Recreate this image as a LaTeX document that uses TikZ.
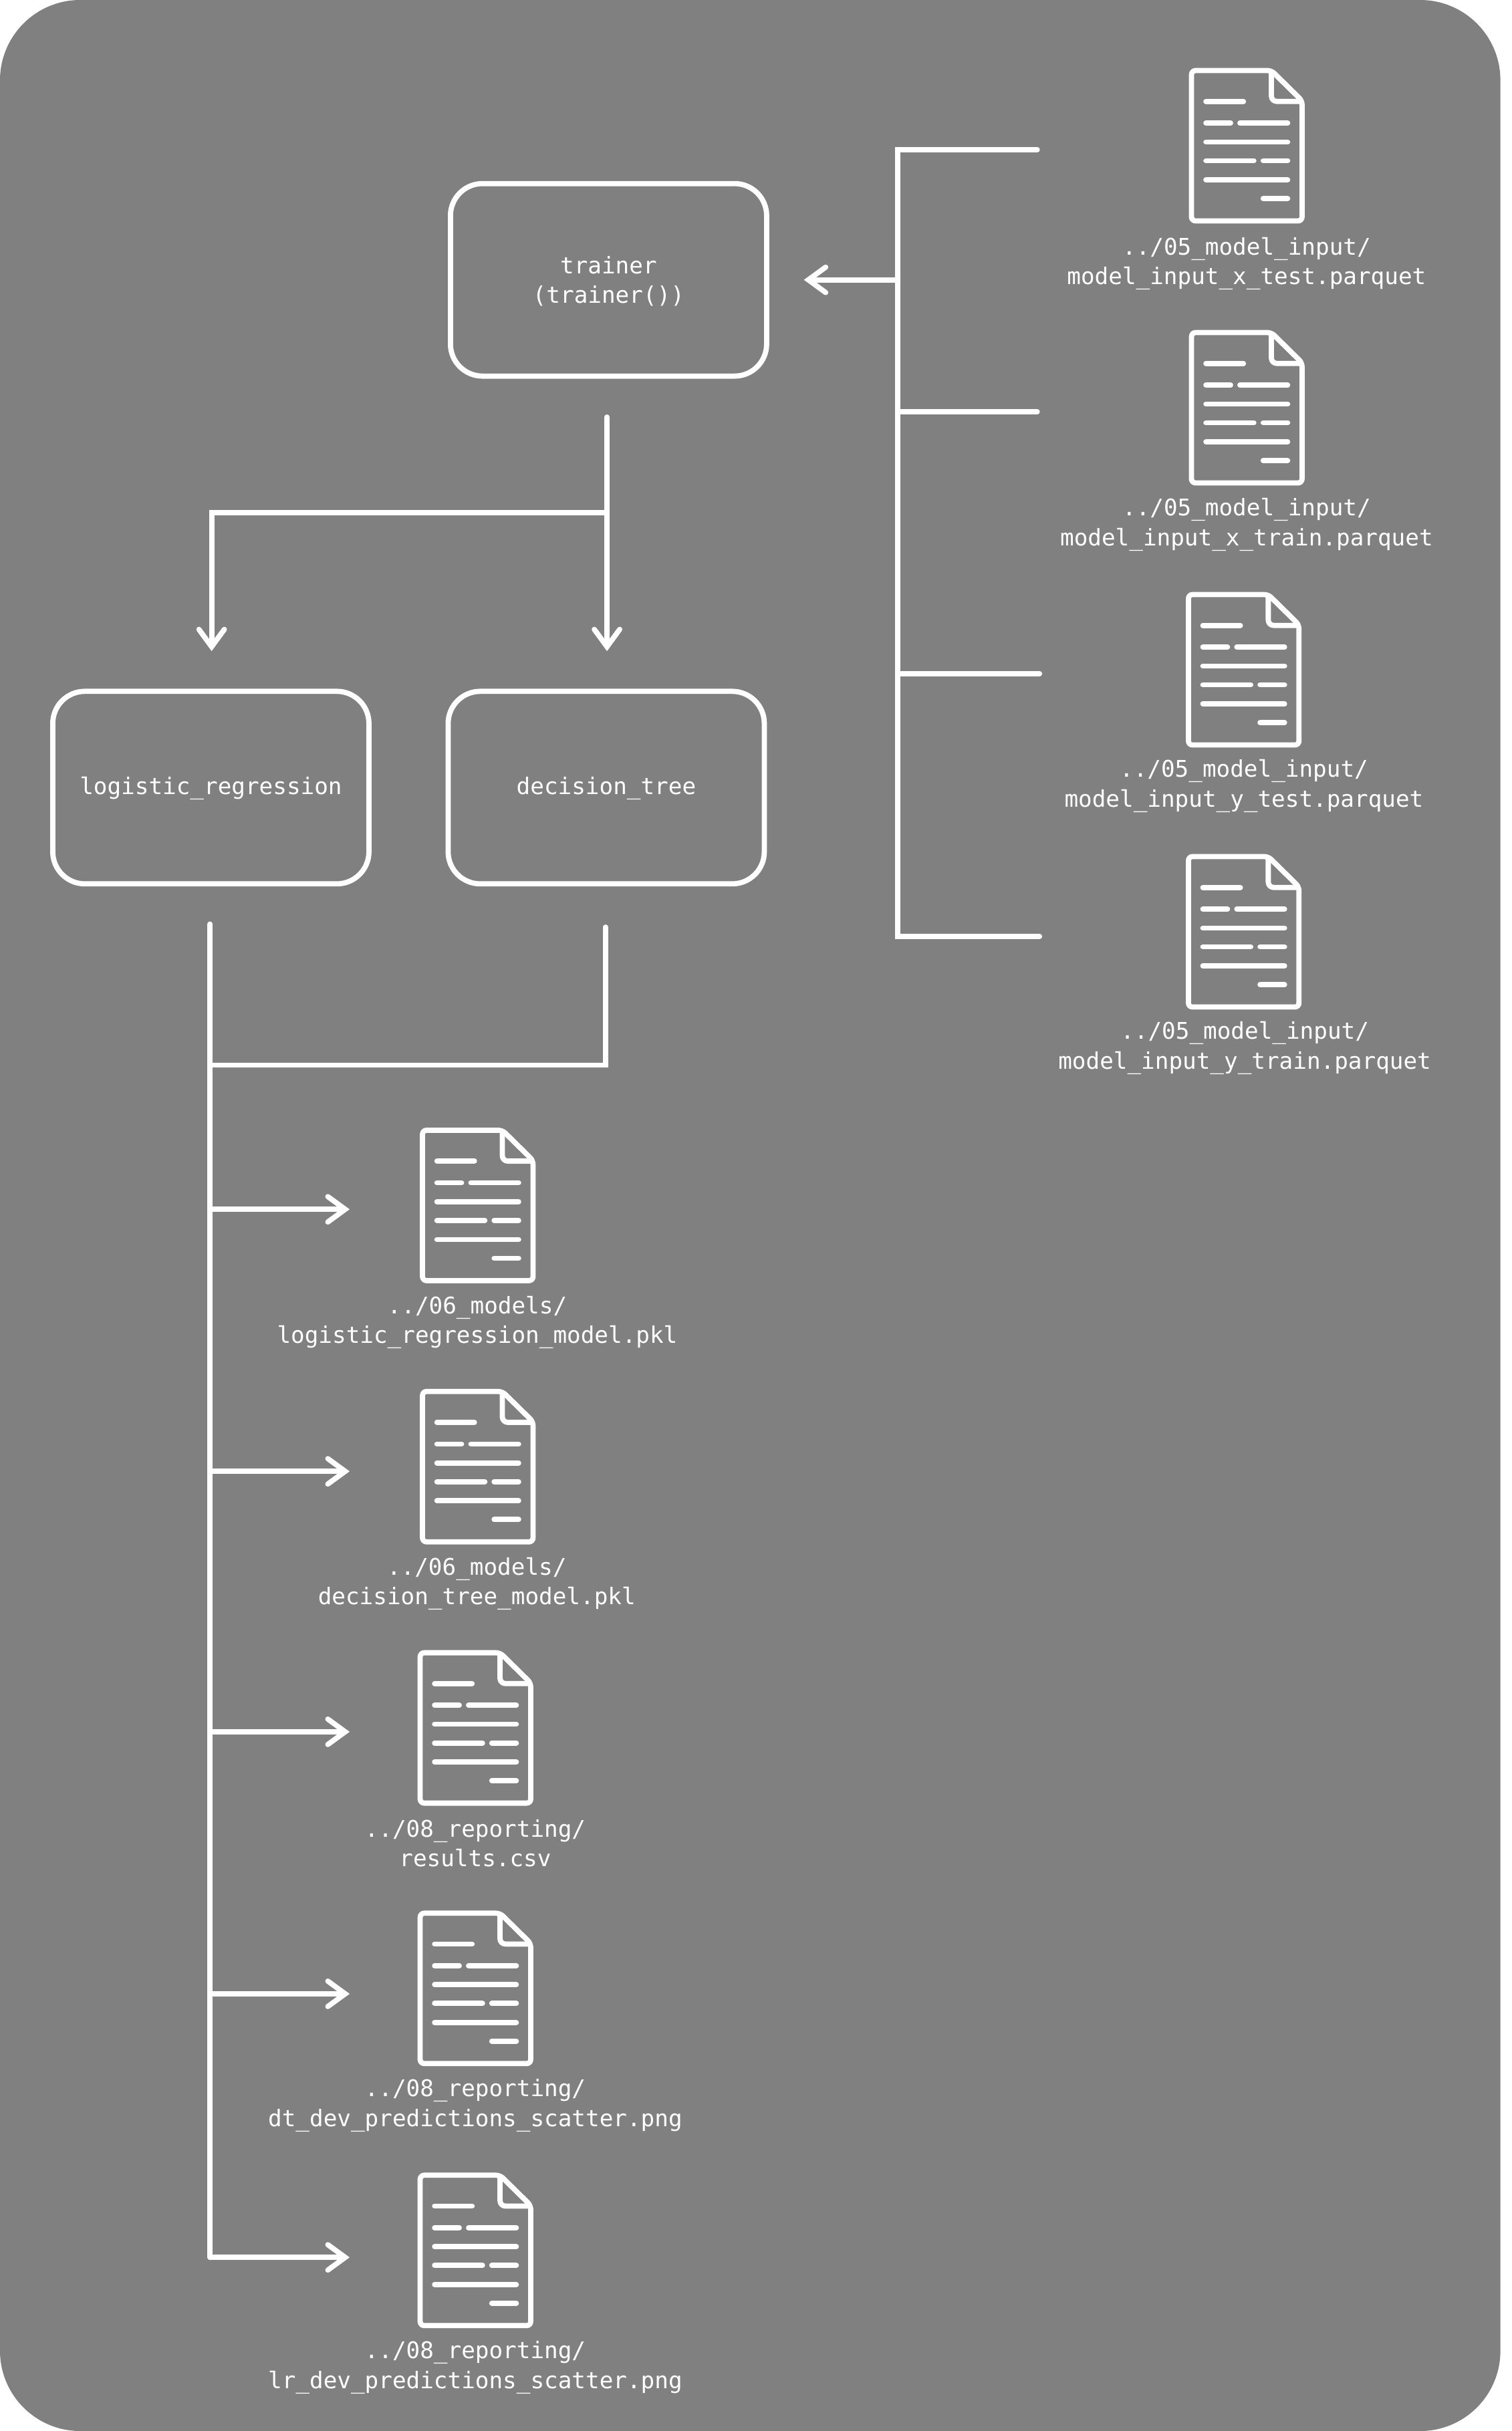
\documentclass[tikz,border=0pt]{standalone}
\usepackage{fontspec}
\setmonofont{DejaVu Sans Mono}
\usetikzlibrary{arrows.meta}
\definecolor{panel}{HTML}{808080}
\tikzset{
  x=1.1597pt, y=-1.1597pt,
  wire/.style={draw=white, line width=3.9pt, line cap=round, line join=miter},
  tipped/.style={wire, -{Straight Barb[length=13pt,width=19pt,line cap=round,line width=3.9pt]}},
  procbox/.style={draw=white, line width=3.9pt, rounded corners=24pt, minimum width=236.5pt, minimum height=144pt, inner sep=0pt},
  filelabel/.style={text=white, font=\labelfont, align=center, inner sep=0pt},
  docicon/.pic={
    \draw[white, line width=3.9pt, rounded corners=3pt, line join=round] (53,1.5) -- (1.5,1.5) -- (1.5,98.5) -- (72.8,98.5) -- (72.8,21) -- cycle;
    \draw[white, line width=3.9pt, line join=round, rounded corners=4pt] (53,1.5) -- (53,21.4) -- (72.8,21.4);
    \draw[white, line width=3.9pt, line cap=round]
      (10.8,21.4) -- (35,21.4)
      (10.8,35.4) -- (26.7,35.4) (32.7,35.4) -- (63.5,35.4)
      (10.8,47.6) -- (63.5,47.6)
      (10.8,59.7) -- (41.7,59.7) (47.7,59.7) -- (63.5,59.7)
      (10.8,72) -- (63.5,72)
      (47.7,84.1) -- (63.5,84.1);
  }
}
\newcommand{\labelfont}{\fontsize{17.15}{22.1}\selectfont\ttfamily}
\begin{document}
\begin{tikzpicture}
\useasboundingbox (0,0) rectangle (975,1568);
\fill[white] (0,0) rectangle (975,1568);
\fill[panel, rounded corners=60pt] (0,0) rectangle (967.7,1568);

% process boxes
\node[procbox] (trainer) at (392.5,180.5) {};
\node[procbox] (logreg) at (136,508) {};
\node[procbox] (dtree) at (391,508) {};
\node[filelabel] (trainerText) at (392.5,181.5) {trainer\\(trainer())};
\node[filelabel] (logregText) at (136,508.6) {logistic\_regression};
\node[filelabel] (dtreeText) at (391,508.6) {decision\_tree};

% document icons
\pic (d1) at (767,44) {docicon};
\pic (d2) at (767,213) {docicon};
\pic (d3) at (765,382) {docicon};
\pic (d4) at (765,551) {docicon};
\pic (o1) at (271,727.5) {docicon};
\pic (o2) at (271,896) {docicon};
\pic (o3) at (269.5,1064.5) {docicon};
\pic (o4) at (269.5,1232.5) {docicon};
\pic (o5) at (269.5,1401.5) {docicon};

% file labels
\node[filelabel] (ld1) at (804,170) {../05\_model\_input/\\model\_input\_x\_test.parquet};
\node[filelabel] (ld2) at (804,338.4) {../05\_model\_input/\\model\_input\_x\_train.parquet};
\node[filelabel] (ld3) at (802.3,507) {../05\_model\_input/\\model\_input\_y\_test.parquet};
\node[filelabel] (ld4) at (802.8,676) {../05\_model\_input/\\model\_input\_y\_train.parquet};
\node[filelabel] (lo1) at (307.8,853) {../06\_models/\\logistic\_regression\_model.pkl};
\node[filelabel] (lo2) at (307.5,1021.5) {../06\_models/\\decision\_tree\_model.pkl};
\node[filelabel] (lo3) at (306.5,1189) {../08\_reporting/\\results.csv};
\node[filelabel] (lo4) at (306.5,1358) {../08\_reporting/\\dt\_dev\_predictions\_scatter.png};
\node[filelabel] (lo5) at (306.5,1527) {../08\_reporting/\\lr\_dev\_predictions\_scatter.png};

% connector end points
\coordinate (busTop) at (579,96.5);
\coordinate (busBot) at (579,604);
\coordinate (in1) at (669,96.5);
\coordinate (j2) at (579,265.5);
\coordinate (in2) at (669,265.5);
\coordinate (j3) at (579,434.5);
\coordinate (in3) at (670.5,434.5);
\coordinate (in4) at (670.5,604);
\coordinate (jT) at (579,180.5);
\coordinate (trainIn) at (518.5,180.5);
\coordinate (trainOut) at (391.5,269);
\coordinate (trainJ) at (391.5,330.5);
\coordinate (dtIn) at (391.5,420);
\coordinate (lrIn) at (136.5,420);
\coordinate (lrTurn) at (136.5,330.5);
\coordinate (lrOut) at (135.5,596);
\coordinate (outBot) at (135.5,1456);
\coordinate (dtOut) at (390.5,598);
\coordinate (dtTurn) at (390.5,687);
\coordinate (outJ) at (135.5,687);
\foreach \n/\y in {1/780,2/949,3/1117,4/1286,5/1456}{
  \coordinate (a\n) at (135.5,\y);
  \coordinate (b\n) at (225.5,\y);
}

% connectors
\draw[wire] (in1) -- (busTop) -- (busBot) -- (in4);
\draw[wire] (j2) -- (in2);
\draw[wire] (j3) -- (in3);
\draw[tipped] (jT) -- (trainIn);
\draw[tipped] (trainOut) -- (dtIn);
\draw[tipped] (trainJ) -- (lrTurn) -- (lrIn);
\draw[wire] (lrOut) -- (outBot);
\draw[wire] (dtOut) -- (dtTurn) -- (outJ);
\foreach \n in {1,...,5}{
  \draw[tipped] (a\n) -- (b\n);
}
\end{tikzpicture}
\end{document}
